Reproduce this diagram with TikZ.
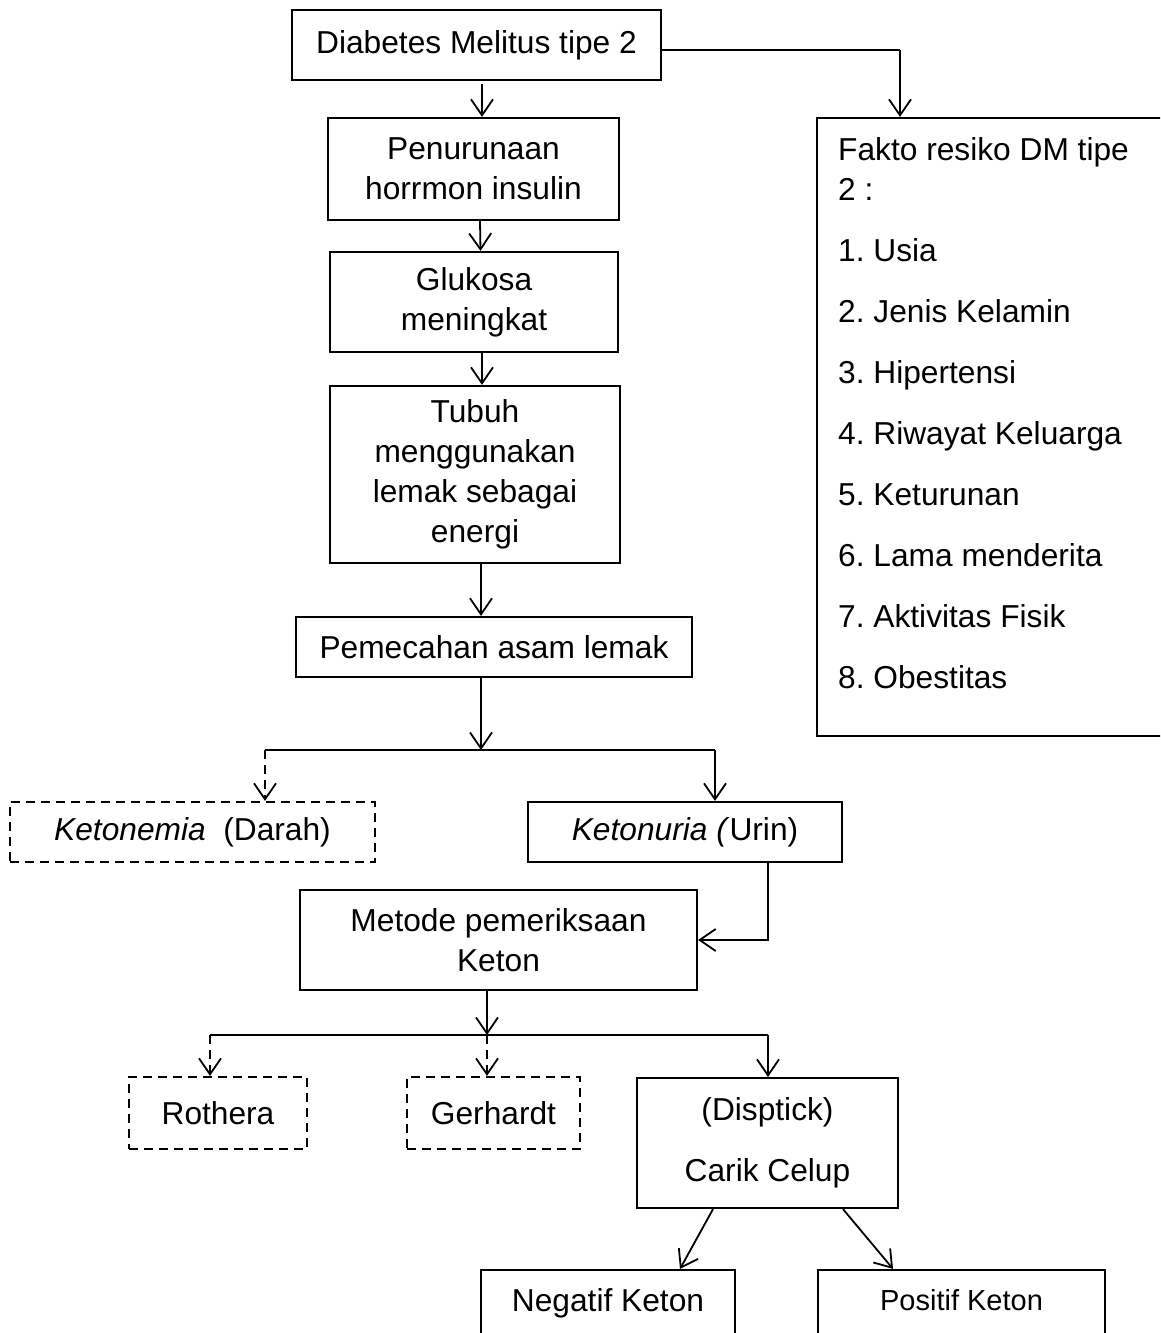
\documentclass[tikz,border=0pt]{standalone}
\usepackage{fontspec}
\setmainfont{Liberation Sans}
\usetikzlibrary{arrows.meta,calc}
\frenchspacing
\begin{document}
\begin{tikzpicture}[x=1pt,y=-1pt,
  box/.style={draw, line width=2.2pt, inner sep=0pt, align=center, font=\fontsize{31.7}{40}\selectfont},
  dbox/.style={box, dash pattern=on 9pt off 6pt},
  conn/.style={line width=1.8pt},
  arr/.style={conn, -{Straight Barb[length=16pt,width=22pt,line width=1.8pt]}},
  darr/.style={arr, dash pattern=on 9pt off 6pt}]
\useasboundingbox (0,0) rectangle (1160,1333);
\clip (0,0) rectangle (1160,1333);

\node[box, minimum width=369, minimum height=70] (dm) at (476.5,45) {Diabetes Melitus tipe 2};
\node[box, minimum width=291, minimum height=102] (pen) at (473.5,169) {Penurunaan\\horrmon insulin};
\node[box, minimum width=288, minimum height=100] (glu) at (474,302) {Glukosa\\meningkat};
\node[box, minimum width=290, minimum height=177] (tub) at (475,474.5) {Tubuh\\menggunakan\\lemak sebagai\\energi};
\node[box, minimum width=396, minimum height=60] (pem) at (494,647) {Pemecahan asam lemak};
\node[dbox, minimum width=365, minimum height=60] (ktnm) at (192.5,832) {\textit{Ketonemia}\ \ (Darah)};
\node[box, minimum width=314, minimum height=60] (ktnu) at (685,832) {\textit{Ketonuria (}Urin)};
\node[box, minimum width=397, minimum height=100] (met) at (498.5,940) {Metode pemeriksaan\\Keton};
\node[dbox, minimum width=178, minimum height=72] (roth) at (218,1113) {Rothera};
\node[dbox, minimum width=173, minimum height=72] (ger) at (493.5,1113) {Gerhardt};
\node[box, minimum width=261, minimum height=130] (dip) at (767.5,1143) {(Disptick)\\[21pt]Carik Celup};
\node[box, minimum width=254, minimum height=80, text height=22.7pt, text depth=20.7pt] (neg) at (608,1310) {Negatif Keton};
\node[box, minimum width=287, minimum height=80, font=\fontsize{29}{36}\selectfont, text height=21pt, text depth=20pt] (pos) at (961.5,1310) {Positif Keton};
\node[box, minimum width=363, minimum height=618] (fak) at (998.5,427) {};
\node[anchor=north west, inner sep=0pt, align=left, font=\fontsize{31.7}{40}\selectfont] (faktxt) at (838,137)
  {Fakto resiko DM tipe\\2 :\\[21pt]1. Usia\\[21pt]2. Jenis Kelamin\\[21pt]3. Hipertensi\\[21pt]4. Riwayat Keluarga\\[21pt]5. Keturunan\\[21pt]6. Lama menderita\\[21pt]7. Aktivitas Fisik\\[21pt]8. Obestitas};

% top connectors
\draw[arr] ([xshift=5.5pt,yshift=-3pt]dm.south) -- ([xshift=8.5pt]pen.north);
\coordinate (cr) at (900,50);
\draw[conn] (dm.east |- cr) -- (cr);
\draw[arr] (cr) -- (cr |- fak.north);
\draw[arr] ([xshift=6.5pt]pen.south) -- ([xshift=6.5pt]glu.north);
\draw[arr] ([xshift=8pt]glu.south) -- ([xshift=7pt]tub.north);
\draw[arr] ([xshift=6pt]tub.south) -- ([xshift=-13pt]pem.north);

% split 1
\coordinate (j1) at (481,750);
\coordinate (jl) at (265,750);
\coordinate (jr) at (715,750);
\draw[arr] (pem.south -| j1) -- (j1);
\draw[conn] (jl) -- (jr);
\draw[darr] (jl) -- (jl |- ktnm.north);
\draw[arr] (jr) -- (jr |- ktnu.north);

% ketonuria -> metode
\draw[arr] ([xshift=83pt]ktnu.south) |- (met.east);

% split 2
\coordinate (j2) at (487,1035);
\coordinate (kl) at (210,1035);
\coordinate (kr) at (768,1035);
\draw[arr] (met.south -| j2) -- (j2);
\draw[conn] (kl) -- (kr);
\draw[darr] (kl) -- (kl |- roth.north);
\draw[darr] (j2) -- (j2 |- ger.north);
\draw[arr] (kr) -- (kr |- dip.north);

% dipstick -> results
\draw[arr] ([xshift=-54.5pt]dip.south) -- ([xshift=72pt]neg.north);
\draw[arr] ([xshift=75.5pt]dip.south) -- ([xshift=-68.5pt]pos.north);
\end{tikzpicture}
\end{document}
